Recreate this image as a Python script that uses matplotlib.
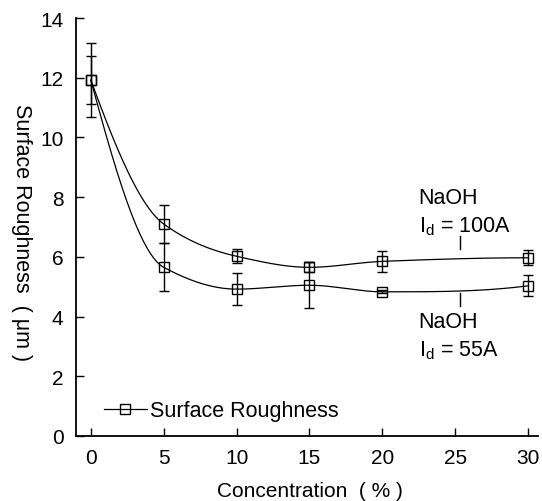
import numpy as np
import matplotlib
matplotlib.use("Agg")
import matplotlib.pyplot as plt
from matplotlib.lines import Line2D

plt.rcParams["font.family"] = ["Liberation Sans", "DejaVu Sans"]
plt.rcParams["mathtext.fontset"] = "custom"
plt.rcParams["mathtext.sf"] = "Liberation Sans"

concentration = [0, 5, 10, 15, 20, 30]
rough_100a = [11.92, 7.1, 6.02, 5.65, 5.85, 5.97]
err_100a = [0.8, 0.65, 0.23, 0.17, 0.35, 0.25]
rough_55a = [11.92, 5.65, 4.92, 5.05, 4.83, 5.03]
err_55a = [1.23, 0.8, 0.54, 0.77, 0.05, 0.35]
x_ticks = [0, 5, 10, 15, 20, 25, 30]
y_ticks = [0, 2, 4, 6, 8, 10, 12, 14]


def smooth(x, y, xs):
    # monotone cubic (pchip) so the line does not overshoot between points
    x = np.asarray(x, float)
    y = np.asarray(y, float)
    n = len(x)
    h = np.diff(x)
    delta = np.diff(y) / h
    d = np.zeros(n)
    for k in range(1, n - 1):
        if delta[k - 1] * delta[k] > 0:
            w1 = 2 * h[k] + h[k - 1]
            w2 = h[k] + 2 * h[k - 1]
            d[k] = (w1 + w2) / (w1 / delta[k - 1] + w2 / delta[k])
    for i, a, b in [(0, 0, 1), (n - 1, n - 2, n - 3)]:
        dd = ((2 * h[a] + h[b]) * delta[a] - h[a] * delta[b]) / (h[a] + h[b])
        if np.sign(dd) != np.sign(delta[a]):
            dd = 0.0
        d[i] = dd
    k = np.clip(np.searchsorted(x, xs, side="right") - 1, 0, n - 2)
    t = (xs - x[k]) / h[k]
    h00 = 2 * t**3 - 3 * t**2 + 1
    h10 = t**3 - 2 * t**2 + t
    h01 = -2 * t**3 + 3 * t**2
    h11 = t**3 - t**2
    return h00 * y[k] + h10 * h[k] * d[k] + h01 * y[k + 1] + h11 * h[k] * d[k + 1]


fig = plt.figure(figsize=(5.42, 5.02), dpi=100)
ax = fig.add_axes([0.140, 0.1295, 0.853, 0.8325])

xs = np.linspace(concentration[0], concentration[-1], 400)
for vals, errs in [(rough_100a, err_100a), (rough_55a, err_55a)]:
    ax.plot(xs, smooth(concentration, vals, xs), color="black", lw=0.9)
    ax.errorbar(concentration, vals, yerr=errs, fmt="s", ms=7.5, mfc="none",
                mec="black", mew=1.0, ecolor="black", elinewidth=1.0,
                capsize=3.5, capthick=1.0)

# pointer marks for the two labels
ax.plot([25.3, 25.3], [6.25, 6.7], color="black", lw=1.0)
ax.plot([25.3, 25.3], [4.35, 4.78], color="black", lw=1.0)

ax.text(22.5, 8.0, "NaOH", fontsize=15.5, va="center", ha="left")
ax.text(22.5, 7.05, r"I$_\mathsf{d}$ = 100A", fontsize=15.5, va="center", ha="left")
ax.text(22.5, 3.85, "NaOH", fontsize=15.5, va="center", ha="left")
ax.text(22.5, 2.9, r"I$_\mathsf{d}$ = 55A", fontsize=15.5, va="center", ha="left")

ax.set_xlim(-1.03, 30.7)
ax.set_ylim(0, 14)
ax.set_xticks(x_ticks)
ax.set_yticks(y_ticks)
ax.tick_params(direction="in", length=6, width=1.0, labelsize=15, pad=9)
for side in ["top", "right"]:
    ax.spines[side].set_visible(False)
for side in ["left", "bottom"]:
    ax.spines[side].set_linewidth(1.3)

ax.set_xlabel("Concentration  ( % )", fontsize=15, va="center")
ax.xaxis.set_label_coords(0.506, -0.1316)
ax.set_ylabel("Surface Roughness  ( \u03bcm )", fontsize=15.5, rotation=270,
              va="center")
ax.yaxis.set_label_coords(-0.117, 0.49)

handle = Line2D([], [], color="black", lw=0.9, marker="s", ms=7,
                mfc="none", mec="black")
ax.legend([handle], ["Surface Roughness"], loc="center left",
          bbox_to_anchor=(0.06, 0.06), frameon=False, fontsize=15.5,
          borderpad=0, borderaxespad=0, handlelength=2.0, handletextpad=0.15)

fig.savefig("out.png", dpi=100)
